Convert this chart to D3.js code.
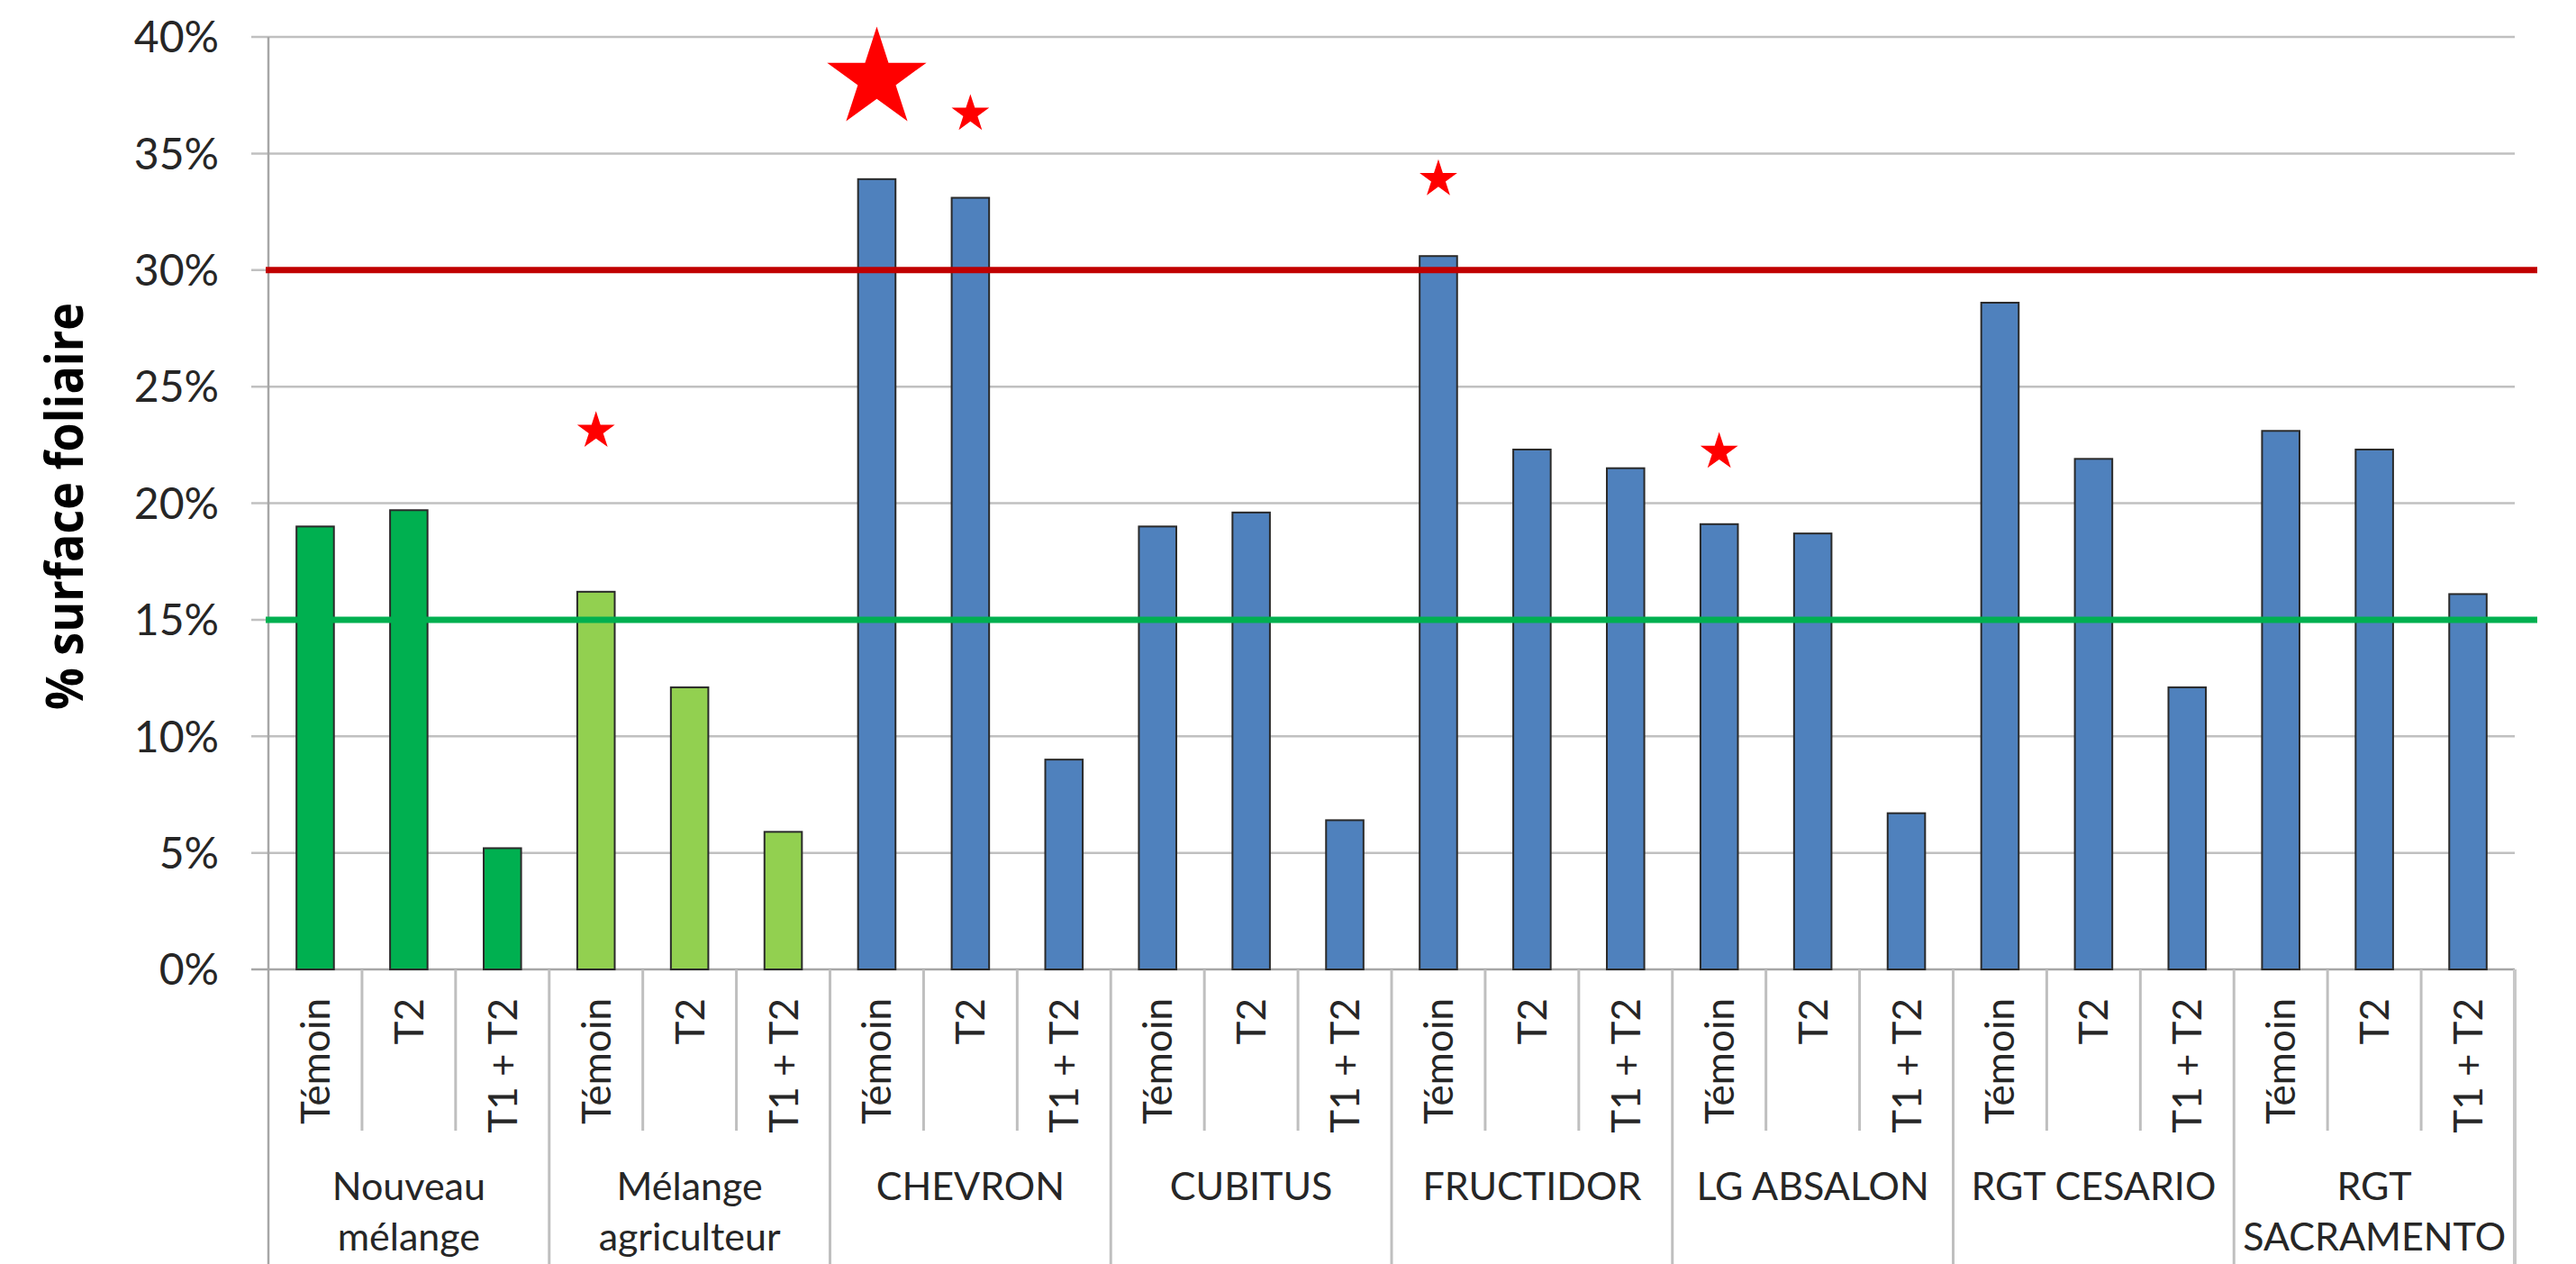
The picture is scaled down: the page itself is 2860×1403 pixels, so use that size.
<!DOCTYPE html>
<meta charset="utf-8">
<style>
body { margin: 0; background: #fff; }
.tick-y { font: 48px Lato, sans-serif; fill: #262626; }
.sub { font: 44px Lato, sans-serif; fill: #262626; }
.grp { font: 43px Lato, sans-serif; fill: #262626; }
.title { font: bold 58px "Open Sans", sans-serif; fill: #000; }
</style>
<svg width="2860" height="1403" id="chart"></svg>
<script src="https://cdn.jsdelivr.net/npm/d3@7"></script>
<script>
// varieties / mixtures (group labels split on lines like the original)
var groups = ["Nouveau mélange", "Mélange agriculteur", "CHEVRON", "CUBITUS", "FRUCTIDOR", "LG ABSALON", "RGT CESARIO", "RGT SACRAMENTO"];
var groupLines = [["Nouveau", "mélange"], ["Mélange", "agriculteur"], ["CHEVRON"], ["CUBITUS"], ["FRUCTIDOR"], ["LG ABSALON"], ["RGT CESARIO"], ["RGT", "SACRAMENTO"]];
var treatments = ["Témoin", "T2", "T1 + T2"];

// % surface foliaire touchée, one value per group
var temoin = [19.0, 16.2, 33.9, 19.0, 30.6, 19.1, 28.6, 23.1];
var t2     = [19.7, 12.1, 33.1, 19.6, 22.3, 18.7, 21.9, 22.3];
var t1t2   = [5.2, 5.9, 9.0, 6.4, 21.5, 6.7, 12.1, 16.1];

var yTicks = [0, 5, 10, 15, 20, 25, 30, 35, 40];

// threshold lines
var seuilHaut = 30, seuilBas = 15;

// stars: group, treatment, height (%), level (2 = big star)
var starGroups = ["Mélange agriculteur", "CHEVRON", "CHEVRON", "FRUCTIDOR", "LG ABSALON"];
var starTreat  = ["Témoin", "Témoin", "T2", "Témoin", "Témoin"];
var starValue  = [23.1, 38.2, 36.7, 33.9, 22.2];
var starLevel  = [1, 2, 1, 1, 1];

var groupColor = {"Nouveau mélange": "#00b050", "Mélange agriculteur": "#92d050"};

var svg = d3.select("#chart"),
    margin = {top: 41, right: 68, bottom: 327, left: 298},
    width = +svg.attr("width"),
    height = +svg.attr("height");

var rows = [];
groups.forEach(function(g, i) {
  [temoin[i], t2[i], t1t2[i]].forEach(function(v, j) {
    rows.push({group: g, treatment: treatments[j], key: g + "|" + treatments[j], value: v});
  });
});

var x = d3.scaleBand()
    .domain(rows.map(d => d.key))
    .range([margin.left, width - margin.right])
    .padding(0);

var y = d3.scaleLinear()
    .domain([0, 40])
    .range([height - margin.bottom, margin.top]);

var bw = x.bandwidth(), barW = bw * 0.4;
var axisY = y(0);

// gridlines + tick marks
svg.append("g").selectAll("line")
  .data(yTicks)
  .enter().append("line")
    .attr("x1", margin.left - 19)
    .attr("x2", width - margin.right)
    .attr("y1", d => y(d))
    .attr("y2", d => y(d))
    .attr("stroke", d => d === 0 ? "#a6a6a6" : "#c0c0c0")
    .attr("stroke-width", 2.5);

svg.append("g").selectAll("text")
  .data(yTicks)
  .enter().append("text")
    .attr("class", "tick-y")
    .attr("x", margin.left - 55)
    .attr("y", d => y(d))
    .attr("dy", "0.36em")
    .attr("text-anchor", "end")
    .text(d => d + "%");

// left axis line (runs down through the category area)
svg.append("line")
    .attr("x1", margin.left).attr("x2", margin.left)
    .attr("y1", y(40)).attr("y2", height)
    .attr("stroke", "#a6a6a6").attr("stroke-width", 2.5);

// bars
svg.append("g").selectAll("rect")
  .data(rows)
  .enter().append("rect")
    .attr("x", d => x(d.key) + (bw - barW) / 2)
    .attr("width", barW)
    .attr("y", d => y(d.value))
    .attr("height", d => axisY - y(d.value))
    .attr("fill", d => groupColor[d.group] || "#4f81bd")
    .attr("stroke", "#2a2a2a")
    .attr("stroke-width", 2);

// threshold lines
[[seuilHaut, "#c00000"], [seuilBas, "#00b050"]].forEach(function(t) {
  svg.append("line")
      .attr("x1", margin.left - 3)
      .attr("x2", width - margin.right + 25)
      .attr("y1", y(t[0])).attr("y2", y(t[0]))
      .attr("stroke", t[1]).attr("stroke-width", 7);
});

// stars
var star = d3.symbol().type(d3.symbolStar);
starGroups.forEach(function(g, i) {
  var r = starLevel[i] === 2 ? 58 : 22;
  svg.append("path")
      .attr("d", star.size(r * r / 0.8908130915292852)())
      .attr("transform", "translate(" + (x(g + "|" + starTreat[i]) + bw / 2) + "," + y(starValue[i]) + ")")
      .attr("fill", "#ff0000");
});

// category axis: sub separators
var subSepBottom = 1255;
var cat = svg.append("g");
rows.forEach(function(d, i) {
  var x0 = x(d.key);
  if (i > 0) {
    var isGroup = i % 3 === 0;
    cat.append("line")
        .attr("x1", x0).attr("x2", x0)
        .attr("y1", axisY).attr("y2", isGroup ? height : subSepBottom)
        .attr("stroke", "#bfbfbf").attr("stroke-width", 3);
  }
  cat.append("text")
      .attr("class", "sub")
      .attr("transform", "translate(" + (x0 + bw / 2 + 16) + ",1108) rotate(-90)")
      .attr("text-anchor", "end")
      .text(d.treatment);
});
// right border of the category area
cat.append("line")
    .attr("x1", width - margin.right).attr("x2", width - margin.right)
    .attr("y1", axisY).attr("y2", height)
    .attr("stroke", "#c8c8c8").attr("stroke-width", 4);

// group labels
groups.forEach(function(g, i) {
  var cx = x(g + "|" + treatments[0]) + bw * 1.5;
  var t = cat.append("text")
      .attr("class", "grp")
      .attr("text-anchor", "middle");
  groupLines[i].forEach(function(line, k) {
    t.append("tspan")
        .attr("x", cx)
        .attr("y", 1332 + k * 56)
        .text(line);
  });
});

// y title
svg.append("text")
    .attr("class", "title")
    .attr("transform", "translate(92,562) rotate(-90)")
    .attr("text-anchor", "middle")
    .attr("textLength", 452)
    .attr("lengthAdjust", "spacingAndGlyphs")
    .text("% surface foliaire");
</script>
